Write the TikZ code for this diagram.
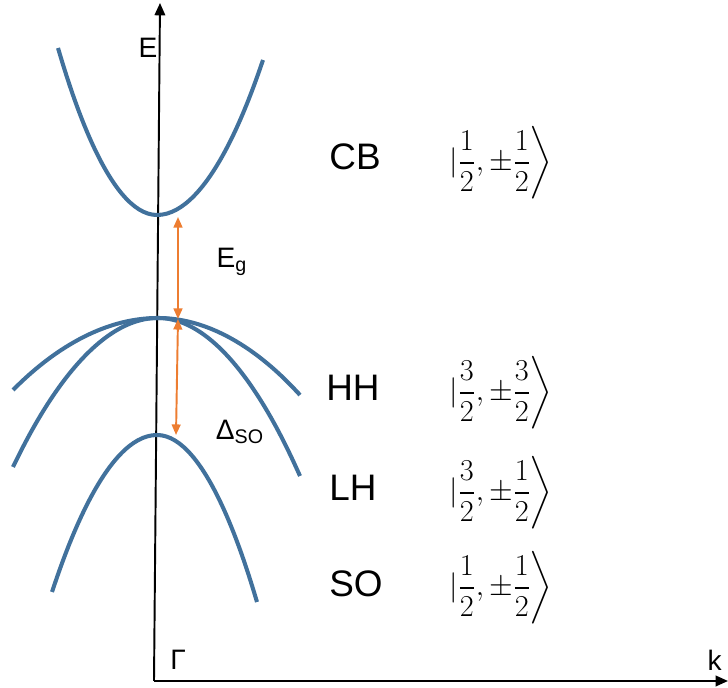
\documentclass[tikz,border=0pt]{standalone}
\usepackage{amsmath}
\usepackage{fontspec}
\setmainfont{Liberation Sans}
\usetikzlibrary{arrows.meta, positioning, calc}

\definecolor{bandblue}{HTML}{41719C}
\definecolor{gaporange}{HTML}{ED7D31}

\newcommand{\ketstate}[2]{$|\dfrac{#1}{2},\pm\dfrac{#2}{2}\mskip-5mu\left.\vphantom{\dfrac{1}{2}}\right\rangle$}

\begin{document}
\begin{tikzpicture}[
        x=0.02cm, y=-0.02cm,
        >=Triangle,
        axis/.style={draw=black, line width=1.1pt, ->, >={Triangle[length=7pt, width=6pt]}},
        band/.style={draw=bandblue, line width=2.3pt},
        gap/.style={draw=gaporange, line width=1.1pt, <->, >={Triangle[length=6pt, width=5pt]}},
        bandlabel/.style={font=\fontsize{21}{25}\selectfont, anchor=center},
        axislabel/.style={font=\fontsize{16}{19}\selectfont},
        ket/.style={font=\fontsize{17}{20}\selectfont, anchor=west}
    ]
    \useasboundingbox (0,0) rectangle (728,688);

    % Axes
    \coordinate (origin) at (154,681);
    \coordinate (etop) at (160,3);
    \coordinate (kend) at (728,681);
    \draw[axis] (origin) -- (etop);
    \draw[axis] (origin) -- (kend);
    \node[axislabel] (elabel) at (148,48) {E};
    \node[axislabel] (gamma) at (178,660) {Γ};
    \node[axislabel, anchor=east] (klabel) at (728,660) {k};

    % Bands
    \draw[band] (58,48) parabola bend (157,215) (263,60);
    \draw[band] (13,390) parabola bend (158,318) (300,395);
    \draw[band] (13,467) parabola bend (158,318) (300,476);
    \draw[band] (52,592) parabola bend (157,435) (257,602);

    % Gaps
    \coordinate (cbmin) at (178,217);
    \coordinate (vbtop) at (178,319);
    \coordinate (somax) at (176,435);
    \draw[gap] (cbmin) -- (vbtop);
    \draw[gap] (vbtop) -- (somax);
    \node[axislabel] (eg) at (232,262) {E\textsubscript{g}};
    \node[axislabel] (dso) at (240,432) {Δ\textsubscript{SO}};

    % Labels
    \node[bandlabel] (cb) at (355,157) {CB};
    \node[bandlabel] (hh) at (353,388) {HH};
    \node[bandlabel] (lh) at (353,488) {LH};
    \node[bandlabel] (so) at (356,584) {SO};

    \node[ket] (cbket) at (443,163) {\ketstate{1}{1}};
    \node[ket] (hhket) at (443,393) {\ketstate{3}{3}};
    \node[ket] (lhket) at (443,493) {\ketstate{3}{1}};
    \node[ket] (soket) at (443,588) {\ketstate{1}{1}};
\end{tikzpicture}
\end{document}
